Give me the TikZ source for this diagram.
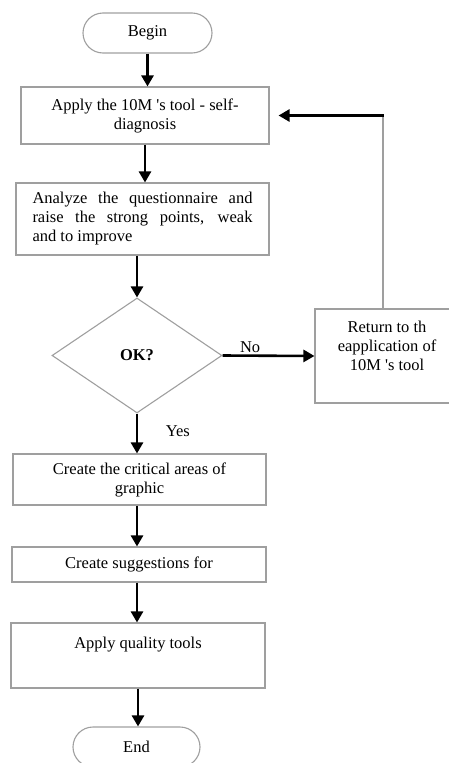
\documentclass[tikz,border=0pt]{standalone}
\usepackage{fontspec}
\setmainfont{Liberation Serif}
\usetikzlibrary{shapes.geometric,arrows.meta}

\begin{document}
\begin{tikzpicture}[x=1pt, y=-1pt,
  box/.style={draw=gray!75, line width=1.1pt},
  term/.style={box, rounded corners=20pt, minimum height=40pt},
  flow/.style={line width=2.6pt, -{Triangle[width=12pt,length=11pt]}}]

  \useasboundingbox (0,0) rectangle (449,763);
  \fontsize{16.5}{19}\selectfont

  \newcommand\W{220pt}
  \newcommand\Q{\textquotesingle}

  %% main column
  \node[term, minimum width=129pt] (begin) at (147.5,33) {Begin};
  \node[box, minimum width=248pt, minimum height=57pt, align=center] (apply) at (145,115.5)
    {Apply the 10M \Q s tool - self-\\diagnosis};
  \node[box, minimum width=253pt, minimum height=72pt, align=center] (analyze) at (142.5,219)
    {\makebox[\W][s]{Analyze the questionnaire and}\\
     \makebox[\W][s]{raise the strong points, weak}\\
     \makebox[\W][l]{and to improve}};
  \node[box, diamond, minimum width=170pt, minimum height=115pt, inner sep=0pt] (ok) at (137,355.5)
    {\textbf{OK?}};
  \node[box, minimum width=253pt, minimum height=51pt, align=center] (critical) at (139.5,479.5)
    {Create the critical areas of\\graphic};
  \node[box, minimum width=254pt, minimum height=35pt] (suggest) at (139,564.5)
    {Create suggestions for};
  \node[box, minimum width=254pt, minimum height=65pt] (quality) at (138,655.5) {};
  \node[anchor=north] (qualitytext) at ([yshift=-9pt]quality.north) {Apply quality tools};
  \node[term, minimum width=127pt] (end) at (136.5,747) {End};

  %% side box
  \node[box, minimum width=144pt, minimum height=94pt] (ret) at (387,356) {};
  \node[anchor=north, align=center] (rettext)
    at ([yshift=-7pt]ret.north) {Return to th\\eapplication of\\10M \Q s tool};

  %% arrows
  \draw[flow] (begin.south) -- (begin.south |- apply.north);
  \draw[flow] (apply.south) -- (apply.south |- analyze.north);
  \draw[flow] (ok.north |- analyze.south) -- (ok.north);
  \draw[flow] (ok.south) -- node[right, xshift=22pt, pos=0.45] (yes) {Yes} (ok.south |- critical.north);
  \draw[flow] (ok.south |- critical.south) -- (ok.south |- suggest.north);
  \draw[flow] (ok.south |- suggest.south) -- (ok.south |- quality.north);
  \draw[flow] (quality.south) -- (quality.south |- end.north);

  \draw[flow] (ok.east) -- node[above, pos=0.3, inner sep=2pt] (no) {No} (ret.west);

  %% loop back
  \coordinate (turn) at ([xshift=-4pt]ret.north |- apply.east);
  \draw[box] (ret.north -| turn) -- (turn);
  \draw[flow, shorten >=9pt] ([xshift=0.6pt]turn) -- (apply.east |- turn);
\end{tikzpicture}
\end{document}
